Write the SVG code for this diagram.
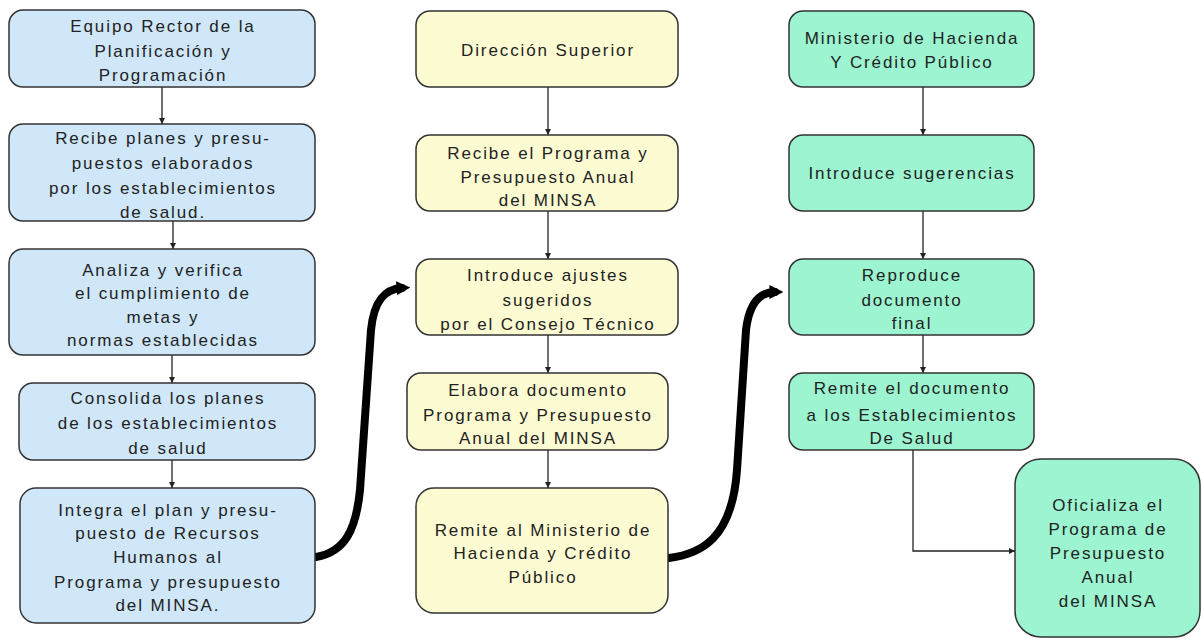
<svg xmlns="http://www.w3.org/2000/svg" width="1204" height="641" viewBox="0 0 1204 641">
<defs>
<style>
.b{fill:#cfe7f9;stroke:#333;stroke-width:1.5}
.y{fill:#fdfbd2;stroke:#333;stroke-width:1.5}
.g{fill:#9cf4d0;stroke:#333;stroke-width:1.5}
text{font-family:"Liberation Sans",Arial,sans-serif;font-size:17px;fill:#222;text-anchor:middle;letter-spacing:1.9px}
.c{stroke:#222;stroke-width:1.3;fill:none}
.t{stroke:#000;stroke-width:8;fill:none;stroke-linecap:round}
</style>
<marker id="ah" viewBox="0 0 10 10" refX="10" refY="5" markerWidth="6" markerHeight="6" markerUnits="userSpaceOnUse" orient="auto">
<path d="M0,0 L10,5 L0,10 z" fill="#222"/>
</marker>
<marker id="th" viewBox="0 0 10 10" refX="4" refY="5" markerWidth="14" markerHeight="16" markerUnits="userSpaceOnUse" orient="auto">
<path d="M0,0 L10,5 L0,10 z" fill="#000"/>
</marker>
</defs>
<rect width="1204" height="641" fill="#fff"/>

<g id="connectors">
<line class="c" x1="162" y1="87" x2="162" y2="124" marker-end="url(#ah)"/>
<line class="c" x1="173" y1="221" x2="173" y2="249" marker-end="url(#ah)"/>
<line class="c" x1="172" y1="355" x2="172" y2="383" marker-end="url(#ah)"/>
<line class="c" x1="172" y1="460" x2="172" y2="488" marker-end="url(#ah)"/>
<line class="c" x1="548" y1="87" x2="548" y2="135" marker-end="url(#ah)"/>
<line class="c" x1="548" y1="211" x2="548" y2="259" marker-end="url(#ah)"/>
<line class="c" x1="548" y1="335" x2="548" y2="373" marker-end="url(#ah)"/>
<line class="c" x1="548" y1="450" x2="548" y2="488" marker-end="url(#ah)"/>
<line class="c" x1="923" y1="87" x2="923" y2="135" marker-end="url(#ah)"/>
<line class="c" x1="923" y1="211" x2="923" y2="259" marker-end="url(#ah)"/>
<line class="c" x1="923" y1="335" x2="923" y2="373" marker-end="url(#ah)"/>
<polyline class="c" points="913,450 913,551 1015,551" marker-end="url(#ah)"/>
<path class="t" d="M316,557 C345,552 356,530 360,490 L371,330 C374,300 385,289 402,288" marker-end="url(#th)"/>
<path class="t" d="M669,558 C700,554 732,540 737,470 L746,330 C749,305 758,292 775,292" marker-end="url(#th)"/>
</g>

<g id="n1"><rect class="b" x="9" y="10" width="306" height="77" rx="14"/>
<text x="163" y="32">Equipo Rector de la</text><text x="163" y="57">Planificación y</text><text x="163" y="81">Programación</text></g>
<g id="n2"><rect class="b" x="9" y="124" width="306" height="97" rx="14"/>
<text x="163" y="144">Recibe planes y presu-</text><text x="163" y="169">puestos elaborados</text><text x="163" y="194">por los establecimientos</text><text x="163" y="218">de salud.</text></g>
<g id="n3"><rect class="b" x="9" y="249" width="306" height="106" rx="14"/>
<text x="163" y="276">Analiza y verifica</text><text x="163" y="299">el cumplimiento de</text><text x="163" y="323">metas y</text><text x="163" y="346">normas establecidas</text></g>
<g id="n4"><rect class="b" x="19" y="383" width="296" height="77" rx="14"/>
<text x="168" y="404">Consolida los planes</text><text x="168" y="429">de los establecimientos</text><text x="168" y="454">de salud</text></g>
<g id="n5"><rect class="b" x="20" y="488" width="295" height="135" rx="16"/>
<text x="168" y="516">Integra el plan y presu-</text><text x="168" y="539">puesto de Recursos</text><text x="168" y="563">Humanos al</text><text x="168" y="588">Programa y presupuesto</text><text x="168" y="611">del MINSA.</text></g>

<g id="m1"><rect class="y" x="416" y="11" width="262" height="76" rx="14"/>
<text x="548" y="56">Dirección Superior</text></g>
<g id="m2"><rect class="y" x="416" y="135" width="262" height="76" rx="14"/>
<text x="548" y="159">Recibe el Programa y</text><text x="548" y="183">Presupuesto Anual</text><text x="548" y="206">del MINSA</text></g>
<g id="m3"><rect class="y" x="416" y="259" width="262" height="76" rx="14"/>
<text x="548" y="281">Introduce ajustes</text><text x="548" y="306">sugeridos</text><text x="548" y="330">por el Consejo Técnico</text></g>
<g id="m4"><rect class="y" x="407" y="373" width="261" height="77" rx="14"/>
<text x="538" y="396">Elabora documento</text><text x="538" y="421">Programa y Presupuesto</text><text x="538" y="444">Anual del MINSA</text></g>
<g id="m5"><rect class="y" x="416" y="488" width="252" height="125" rx="18"/>
<text x="543" y="536">Remite al Ministerio de</text><text x="543" y="559">Hacienda y Crédito</text><text x="543" y="583">Público</text></g>

<g id="r1"><rect class="g" x="789" y="11" width="245" height="76" rx="14"/>
<text x="912" y="44">Ministerio de Hacienda</text><text x="912" y="68">Y Crédito Público</text></g>
<g id="r2"><rect class="g" x="789" y="135" width="245" height="76" rx="14"/>
<text x="912" y="179">Introduce sugerencias</text></g>
<g id="r3"><rect class="g" x="789" y="259" width="245" height="76" rx="14"/>
<text x="912" y="281">Reproduce</text><text x="912" y="306">documento</text><text x="912" y="329">final</text></g>
<g id="r4"><rect class="g" x="789" y="373" width="245" height="77" rx="14"/>
<text x="912" y="394">Remite el documento</text><text x="912" y="421">a los Establecimientos</text><text x="912" y="444">De Salud</text></g>
<g id="r5"><rect class="g" x="1015" y="459" width="185" height="178" rx="26"/>
<text x="1108" y="511">Oficializa el</text><text x="1108" y="535">Programa de</text><text x="1108" y="559">Presupuesto</text><text x="1108" y="583">Anual</text><text x="1108" y="607">del MINSA</text></g>
</svg>
